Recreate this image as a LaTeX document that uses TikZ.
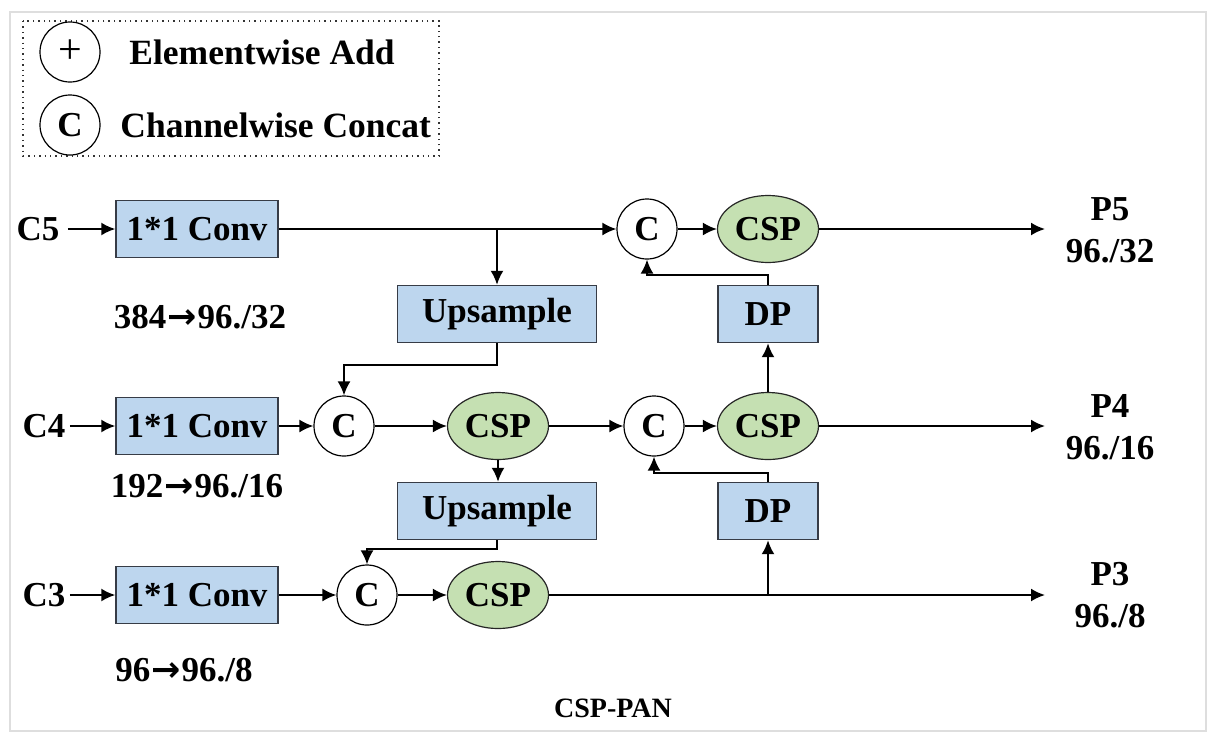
\documentclass[tikz,border=0pt]{standalone}
\usepackage{fontspec}
\setmainfont{Liberation Serif}
\newfontfamily\arrowfont{DejaVu Sans}
\usetikzlibrary{arrows.meta,shapes.geometric}
\definecolor{boxblue}{RGB}{189,214,238}
\definecolor{cspgreen}{RGB}{197,224,178}
\definecolor{frame}{RGB}{222,222,222}
\definecolor{edge}{RGB}{55,60,70}
\newcommand{\rarr}{{\arrowfont\bfseries\kern0.5pt→\kern0.5pt}}
\tikzset{
  txt/.style={font=\fontsize{17.5}{21}\selectfont\bfseries, inner sep=2pt},
  boxn/.style={txt, draw=edge, line width=0.7pt, fill=boxblue, minimum height=28.5pt, inner sep=0pt},
  convbox/.style={boxn, minimum width=81pt},
  upbox/.style={boxn, minimum width=99.5pt},
  dpbox/.style={boxn, minimum width=50pt},
  catn/.style={txt, circle, draw=black, line width=0.6pt, fill=white, minimum size=30pt, inner sep=0pt},
  cspn/.style={txt, ellipse, draw=black!85, line width=0.6pt, fill=cspgreen, minimum width=50.5pt, minimum height=33.5pt, inner sep=0pt},
  outlab/.style={txt, align=center},
  ln/.style={line width=1pt, black},
  arr/.style={ln, -{Latex[length=7pt,width=6.5pt]}},
}
\begin{document}
\begin{tikzpicture}[x=0.5pt,y=-0.5pt]
\useasboundingbox (0,0) rectangle (1208,734);
% outer faint frame
\draw[frame, line width=1.2pt] (10,12) rectangle (1206,731);
% legend
\draw[black!80, line width=0.7pt, dotted] (23,21) rectangle (439,156);
\node[catn, font=\fontsize{21}{21}\selectfont] (lgadd) at (70,52) {+};
\node[catn] (lgcat) at (70,125) {C};
\node[txt, anchor=west, font=\fontsize{17.75}{21}\selectfont\bfseries] (lgaddt) at (125,52) {Elementwise Add};
\node[txt, anchor=west, font=\fontsize{17.75}{21}\selectfont\bfseries] (lgcatt) at (116,125) {Channelwise Concat};

% inputs
\node[txt] (c5) at (38,229) {C5};
\node[txt] (c4) at (44,426) {C4};
\node[txt] (c3) at (44,595) {C3};
\node[convbox] (conv5) at (197,229) {1*1 Conv};
\node[convbox] (conv4) at (197,426) {1*1 Conv};
\node[convbox] (conv3) at (197,595) {1*1 Conv};
\node[txt] (l5) at (200,317) {384\rarr96./32};
\node[txt] (l4) at (197,486) {192\rarr96./16};
\node[txt] (l3) at (184,670) {96\rarr96./8};

% row 1
\node[catn] (cat1) at (647,229) {C};
\node[cspn] (csp1) at (768,229) {CSP};
\node[upbox] (up1) at (497,314) {Upsample};
\node[dpbox] (dp1) at (768,314) {DP};
% row 2
\node[catn] (cat2) at (344,426) {C};
\node[cspn] (cspA) at (498,426) {CSP};
\node[catn] (cat3) at (654,426) {C};
\node[cspn] (cspB) at (768,426) {CSP};
\node[upbox] (up2) at (497,511) {Upsample};
\node[dpbox] (dp2) at (768,511) {DP};
% row 3
\node[catn] (cat4) at (367,595) {C};
\node[cspn] (cspC) at (498,595) {CSP};

% outputs
\node[outlab] (p5) at (1110,230) {P5\\96./32};
\node[outlab] (p4) at (1110,427) {P4\\96./16};
\node[outlab] (p3) at (1110,595) {P3\\96./8};
\coordinate (o5) at (1045,229);
\coordinate (o4) at (1045,426);
\coordinate (o3) at (1045,595);

\node[txt, font=\fontsize{14}{16}\selectfont\bfseries] (title) at (613,708) {CSP-PAN};

% connectors row 1
\draw[arr] (c5.east) ++(4,0) -- (conv5.west);
\draw[arr] (conv5.east) -- (cat1.west);
\coordinate (b1) at (497,229);
\draw[arr] (b1) -- (up1.north);
\draw[arr] (cat1.east) -- (csp1.west);
\draw[arr] (csp1.east) -- (o5);
\coordinate (k1) at (497,365);
\draw[arr] (up1.south) -- (k1) -| (cat2.north);
\coordinate (k2) at (768,275);
\draw[arr] (dp1.north) -- (k2) -| (cat1.south);
\draw[arr] (cspB.north) -- (dp1.south);

% connectors row 2
\draw[arr] (c4.east) -- (conv4.west);
\draw[arr] (conv4.east) -- (cat2.west);
\draw[arr] (cat2.east) -- (cspA.west);
\draw[arr] (cspA.east) -- (cat3.west);
\draw[arr] (cat3.east) -- (cspB.west);
\draw[arr] (cspB.east) -- (o4);
\draw[arr] (cspA.south) -- (cspA.south |- up2.north);
\coordinate (k3) at (497,549);
\draw[arr] (up2.south) -- (k3) -| (cat4.north);
\coordinate (k4) at (768,473);
\draw[arr] (dp2.north) -- (k4) -| (cat3.south);

% connectors row 3
\draw[arr] (c3.east) -- (conv3.west);
\draw[arr] (conv3.east) -- (cat4.west);
\draw[arr] (cat4.east) -- (cspC.west);
\draw[arr] (cspC.east) -- (o3);
\coordinate (b3) at (768,595);
\draw[arr] (b3) -- (dp2.south);
\end{tikzpicture}
\end{document}
